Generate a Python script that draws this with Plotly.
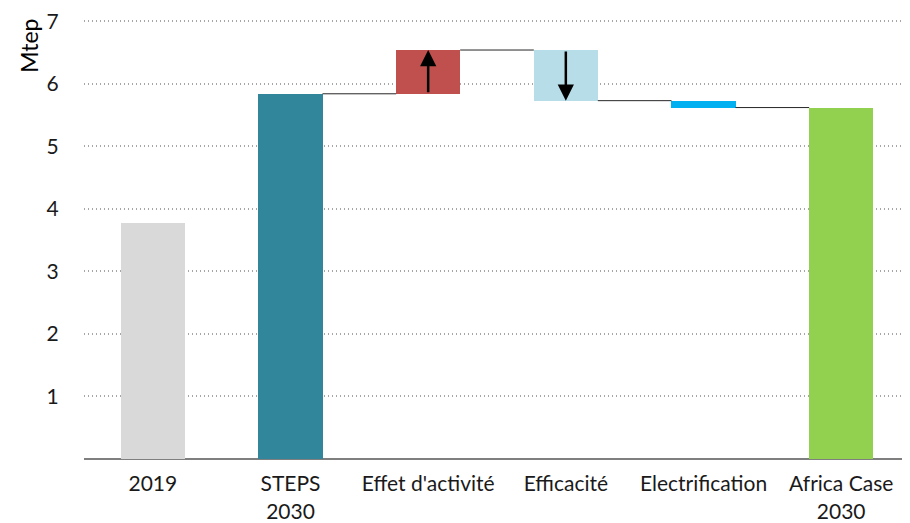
import plotly.graph_objects as go

categories = ["2019", "STEPS<br>2030", "Effet d'activité", "Efficacité", "Electrification", "Africa Case<br>2030"]
measures = ["total", "total", "relative", "relative", "relative", "total"]
values = [3.78, 5.84, 0.70, -0.81, -0.11, 5.62]
colors = ["#D9D9D9", "#31869B", "#C0504D", "#B7DEE8", "#00B0F0", "#92D050"]
y_ticks = [1, 2, 3, 4, 5, 6, 7]

FONT = "Lato"
FS = 21
bar_w = 0.465

# compute bases/tops
bases, tops = [], []
level = 0.0
for m, v in zip(measures, values):
    if m == "total":
        b, t = 0.0, v
        level = v
    else:
        b, t = level, level + v
        level = level + v
    bases.append(min(b, t))
    tops.append(max(b, t))

xs = list(range(len(categories)))
fig = go.Figure()
fig.add_trace(go.Bar(
    x=xs, y=[t - b for b, t in zip(bases, tops)], base=bases,
    marker=dict(color=colors, line=dict(width=0)), width=bar_w,
    hoverinfo="skip", showlegend=False))

# connectors (from STEPS onwards)
ends = []
level = 0.0
for m, v in zip(measures, values):
    level = v if m == "total" else level + v
    ends.append(level)
for i in range(1, len(categories) - 1):
    fig.add_trace(go.Scatter(
        x=[xs[i] + bar_w / 2, xs[i + 1] - bar_w / 2], y=[ends[i], ends[i]],
        mode="lines", line=dict(color="#262626", width=1),
        hoverinfo="skip", showlegend=False))

# arrows inside relative bars
for i, m in enumerate(measures):
    if m == "relative" and abs(values[i]) > 0.3:
        start = ends[i - 1]
        end = ends[i]
        fig.add_annotation(x=xs[i], y=end, ax=xs[i], ay=start,
                           xref="x", yref="y", axref="x", ayref="y",
                           text="", showarrow=True, arrowhead=2, arrowsize=1.3,
                           arrowwidth=2.5, arrowcolor="black")

fig.add_annotation(text="Mtep", x=-0.066, y=7, xref="paper", yref="y",
                   xanchor="center", yanchor="top", textangle=-90, showarrow=False,
                   font=dict(family=FONT, size=23, color="black"), yshift=5)

fig.update_layout(
    width=902, height=515,
    margin=dict(l=76, r=0, t=10, b=64),
    plot_bgcolor="white", paper_bgcolor="white",
    font=dict(family=FONT, size=FS, color="#1a1a1a"),
    bargap=0,
    xaxis=dict(tickmode="array", tickvals=xs, ticktext=categories,
               range=[-0.5, len(categories) - 0.5], showgrid=False,
               showline=False, zeroline=False, ticks="outside", ticklen=6,
               tickcolor="white", tickfont=dict(family=FONT, size=FS, color="#1a1a1a")),
    yaxis=dict(range=[0, 7.02], tickmode="array", tickvals=y_ticks,
               showgrid=True, gridcolor="#A6A6A6", griddash="1px,3px", gridwidth=1.5,
               zeroline=True, zerolinecolor="#7F7F7F", zerolinewidth=1.5,
               showline=False, ticks="outside", ticklen=20, tickcolor="white",
               ticklabeloverflow="allow",
               tickfont=dict(family=FONT, size=FS, color="#1a1a1a")),
)

fig.write_html("out.html")
